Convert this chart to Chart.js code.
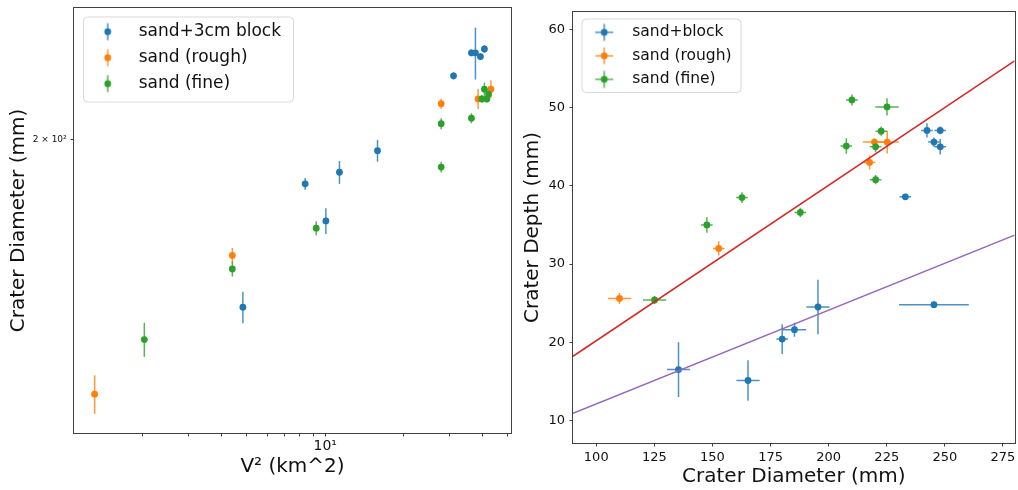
<!DOCTYPE html>
<html>
<head>
<meta charset="utf-8">
<title>Crater size vs impact speed</title>
<script src="https://cdn.jsdelivr.net/npm/chart.js@4.4.1/dist/chart.umd.min.js"></script>
<style>
  html, body { margin: 0; padding: 0; background: #fff; }
  #wrap { position: relative; width: 1018px; height: 490px; }
  #chartLeft { position: absolute; left: 0; top: 0; }
  #chartRight { position: absolute; left: 515px; top: 0; }
</style>
</head>
<body>
<div id="wrap">
  <canvas id="chartLeft" width="515" height="490"></canvas>
  <canvas id="chartRight" width="503" height="490"></canvas>
</div>
<script>
// --- left panel: crater diameter vs V^2 (log-log) ---
const blockV2 = [4.84, 8.38, 10.06, 11.34, 15.86, 31.0, 36.3, 37.6, 39.3, 40.7];
const blockDiam = [134.8, 180.3, 165.2, 185.3, 195.0, 232.6, 245.6, 245.6, 243.4, 247.8];
const blockDiamErr = [5, 2.5, 5, 5, 5, 2, 2, 15, 2, 2.2];

const roughV2 = [1.31, 4.41, 27.8, 38.5, 43.1];
const roughDiam = [109.8, 152.3, 217.8, 220.3, 225.4];
const roughDiamErr = [5, 2.7, 2.6, 5.2, 4.8];

const fineV2 = [2.03, 4.41, 9.24, 27.8, 27.8, 36.3, 39.8, 40.7, 41.6, 42.2];
const fineDiam = [124.9, 147.5, 162.4, 187.6, 207.8, 210.5, 220.3, 225.4, 220.3, 222.8];
const fineDiamErr = [5, 2.6, 2.7, 2.4, 2.7, 2.5, 2, 3.5, 2, 2];

const leftXTicks = [2, 3, 4, 5, 6, 7, 8, 9, 10, 20, 30, 40, 50];
const leftXTickLabels = ['', '', '', '', '', '', '', '', '10¹', '', '', '', ''];
const leftYTicks = [200];
const leftYTickLabels = ['2 × 10²'];

// --- right panel: crater depth vs crater diameter ---
const blockD = [135.4, 165.3, 180.0, 185.3, 195.4, 245.3, 233.0, 242.3, 248.0, 245.3, 248.0];
const blockDepth = [16.5, 15.1, 20.4, 21.6, 24.5, 24.8, 38.6, 47.1, 47.1, 45.6, 45.0];
const blockDErr = [5, 5, 2.5, 5, 5, 15, 2.5, 2.5, 2.5, 2.5, 2.5];
const blockDepthErr = [3.5, 2.6, 1.9, 0.9, 3.5, 0.4, 0.4, 0.9, 0.5, 0.6, 1.0];

const roughD = [110.0, 152.7, 217.6, 219.7, 225.2];
const roughDepth = [25.6, 32.0, 43.0, 45.6, 45.6];
const roughDErr = [5, 2.5, 2.5, 5, 5];
const roughDepthErr = [0.7, 0.9, 0.9, 0.5, 1.45];

const fineD = [125.1, 147.6, 162.7, 187.8, 207.6, 210.0, 225.1, 222.6, 220.2, 220.2];
const fineDepth = [25.4, 35.0, 38.5, 36.6, 45.1, 51.0, 50.1, 47.0, 45.0, 40.8];
const fineDErr = [5, 2.5, 2.5, 2.5, 2.5, 2.5, 5, 2.5, 2.5, 2.5];
const fineDepthErr = [0.5, 1.0, 0.7, 0.6, 1.0, 0.7, 1.1, 0.6, 0.7, 0.6];

const redLineX = [90, 280];
const redLineY = [18.2, 56.0];
const purpleLineX = [90, 280];
const purpleLineY = [10.9, 33.7];

const rightXTicks = [100, 125, 150, 175, 200, 225, 250, 275];
const rightYTicks = [10, 20, 30, 40, 50, 60];

const C_BLUE = '#1f77b4', C_ORANGE = '#ff7f0e', C_GREEN = '#2ca02c';
const C_RED = '#d62728', C_PURPLE = '#9467bd';
const FONT = 'DejaVu Sans';

function withAlpha(hex, a) {
  const n = parseInt(hex.slice(1), 16);
  return `rgba(${(n >> 16) & 255},${(n >> 8) & 255},${n & 255},${a})`;
}

function pts(xs, ys) {
  return xs.map((x, i) => ({ x: x, y: ys[i] }));
}

// small errorbar glyph for the legend
function legendMarker(color, cross) {
  const c = document.createElement('canvas');
  c.width = 20; c.height = 20;
  const g = c.getContext('2d');
  g.strokeStyle = withAlpha(color, 0.8);
  g.lineWidth = 1.5;
  g.beginPath();
  g.moveTo(10, 1.5); g.lineTo(10, 18.5);
  if (cross) { g.moveTo(1, 10); g.lineTo(19, 10); }
  g.stroke();
  g.fillStyle = color;
  g.beginPath(); g.arc(10, 10, 3.4, 0, Math.PI * 2); g.fill();
  return c;
}

// error bars drawn under the points, through the chart scales
const errorBars = {
  id: 'errorBars',
  beforeDatasetsDraw(chart) {
    const { ctx, chartArea: a, scales: { x, y } } = chart;
    ctx.save();
    ctx.beginPath();
    ctx.rect(a.left, a.top, a.right - a.left, a.bottom - a.top);
    ctx.clip();
    ctx.lineWidth = 1.5;
    chart.data.datasets.forEach(ds => {
      if (!ds.errX && !ds.errY) return;
      ctx.strokeStyle = withAlpha(ds.backgroundColor, 0.8);
      ds.data.forEach((p, i) => {
        const px = x.getPixelForValue(p.x), py = y.getPixelForValue(p.y);
        ctx.beginPath();
        if (ds.errY) {
          ctx.moveTo(px, y.getPixelForValue(p.y - ds.errY[i]));
          ctx.lineTo(px, y.getPixelForValue(p.y + ds.errY[i]));
        }
        if (ds.errX) {
          ctx.moveTo(x.getPixelForValue(p.x - ds.errX[i]), py);
          ctx.lineTo(x.getPixelForValue(p.x + ds.errX[i]), py);
        }
        ctx.stroke();
      });
    });
    ctx.restore();
  }
};

// axes frame + legend box (matplotlib look)
const axesFrame = {
  id: 'axesFrame',
  afterLayout(chart, args, opts) {
    const lg = chart.legend;
    if (!lg || !opts.legendAt) return;
    lg.left = opts.legendAt.left;
    lg.top = opts.legendAt.top;
    lg.right = lg.left + 320;
    lg.bottom = lg.top + 200;
  },
  beforeDraw(chart, args, opts) {
    const ctx = chart.ctx;
    ctx.save();
    ctx.fillStyle = '#fff';
    ctx.fillRect(0, 0, chart.width, chart.height);
    const b = opts.legendBox;
    if (b) {
      ctx.beginPath();
      if (ctx.roundRect) ctx.roundRect(b.x + 0.5, b.y + 0.5, b.w, b.h, 4);
      else ctx.rect(b.x + 0.5, b.y + 0.5, b.w, b.h);
      ctx.fillStyle = 'rgba(255,255,255,0.8)';
      ctx.fill();
      ctx.strokeStyle = '#d9d9d9';
      ctx.lineWidth = 1;
      ctx.stroke();
    }
    ctx.restore();
  },
  afterDatasetsDraw(chart) {
    const { ctx, chartArea: a } = chart;
    ctx.save();
    ctx.strokeStyle = '#404040';
    ctx.lineWidth = 1;
    ctx.strokeRect(Math.round(a.left) - 0.5, Math.round(a.top) - 0.5,
      Math.round(a.right - a.left) + 1, Math.round(a.bottom - a.top) + 1);
    ctx.restore();
  }
};

function scatterSet(label, color, xs, ys, errX, errY, order) {
  return {
    label: label,
    data: pts(xs, ys),
    backgroundColor: color,
    borderColor: color,
    pointRadius: 3.4,
    pointBorderWidth: 0,
    pointHoverRadius: 3.4,
    errX: errX,
    errY: errY,
    order: order
  };
}

function legendOpts(fontSize, pad, boxW, cross) {
  return {
    position: 'chartArea',
    align: 'start',
    labels: {
      usePointStyle: true,
      pointStyleWidth: boxW,
      padding: pad,
      color: '#111',
      font: { family: FONT, size: fontSize },
      filter: item => item.datasetIndex < 3,
      sort: (a, b) => a.datasetIndex - b.datasetIndex,
      generateLabels(chart) {
        const items = Chart.defaults.plugins.legend.labels.generateLabels(chart);
        items.forEach(it => {
          const ds = chart.data.datasets[it.datasetIndex];
          it.pointStyle = legendMarker(ds.backgroundColor, cross);
        });
        return items;
      }
    }
  };
}

function tickFont(size) { return { family: FONT, size: size }; }

// ---------- left chart ----------
new Chart(document.getElementById('chartLeft'), {
  type: 'scatter',
  data: {
    datasets: [
      scatterSet('sand+3cm block', C_BLUE, blockV2, blockDiam, null, blockDiamErr, 3),
      scatterSet('sand (rough)', C_ORANGE, roughV2, roughDiam, null, roughDiamErr, 2),
      scatterSet('sand (fine)', C_GREEN, fineV2, fineDiam, null, fineDiamErr, 1)
    ]
  },
  options: {
    responsive: false,
    animation: false,
    events: [],
    layout: { padding: { top: 8, right: 4, bottom: 0, left: 0 } },
    plugins: {
      legend: legendOpts(17, 9, 45, false),
      tooltip: { enabled: false },
      axesFrame: {
        legendAt: { left: 76.2, top: 14.2 },
        legendBox: { x: 83, y: 16.5, w: 210, h: 85 }
      }
    },
    scales: {
      x: {
        type: 'logarithmic',
        min: 1.092,
        max: 51.45,
        afterBuildTicks: s => { s.ticks = leftXTicks.map(v => ({ value: v })); },
        afterFit: s => { s.height = 57; s.paddingLeft = 0; s.paddingRight = 0; },
        ticks: {
          autoSkip: false, maxRotation: 0, padding: 1, color: '#111',
          font: tickFont(14),
          callback: (v, i) => leftXTickLabels[i]
        },
        grid: { drawOnChartArea: false, tickLength: 3.5, tickColor: '#404040' },
        border: { display: false },
        title: {
          display: true, text: 'V² (km^2)', color: '#111',
          font: { family: FONT, size: 20 }, padding: { top: 0, bottom: 11 }
        }
      },
      y: {
        type: 'logarithmic',
        min: 100.19,
        max: 272.97,
        afterBuildTicks: s => { s.ticks = leftYTicks.map(v => ({ value: v })); },
        afterFit: s => { s.width = 74; s.paddingTop = 0; s.paddingBottom = 0; },
        ticks: {
          autoSkip: false, padding: 3.8, color: '#111',
          font: tickFont(9),
          callback: (v, i) => leftYTickLabels[i]
        },
        grid: { drawOnChartArea: false, tickLength: 3.5, tickColor: '#404040' },
        border: { display: false },
        title: {
          display: true, text: 'Crater Diameter (mm)', color: '#111',
          font: { family: FONT, size: 20 }, padding: { top: 7, bottom: 0 }
        }
      }
    }
  },
  plugins: [errorBars, axesFrame]
});

// ---------- right chart ----------
new Chart(document.getElementById('chartRight'), {
  type: 'scatter',
  data: {
    datasets: [
      scatterSet('sand+block', C_BLUE, blockD, blockDepth, blockDErr, blockDepthErr, 3),
      scatterSet('sand (rough)', C_ORANGE, roughD, roughDepth, roughDErr, roughDepthErr, 2),
      scatterSet('sand (fine)', C_GREEN, fineD, fineDepth, fineDErr, fineDepthErr, 1),
      {
        label: 'fit (sand)', data: pts(redLineX, redLineY), showLine: true,
        borderColor: C_RED, backgroundColor: C_RED, borderWidth: 1.5, pointRadius: 0, order: 0
      },
      {
        label: 'fit (block)', data: pts(purpleLineX, purpleLineY), showLine: true,
        borderColor: C_PURPLE, backgroundColor: C_PURPLE, borderWidth: 1.5, pointRadius: 0, order: 0
      }
    ]
  },
  options: {
    responsive: false,
    animation: false,
    events: [],
    layout: { padding: { top: 12, right: 3, bottom: 0, left: 0 } },
    plugins: {
      legend: legendOpts(15.5, 8, 40.5, true),
      tooltip: { enabled: false },
      axesFrame: {
        legendAt: { left: 61, top: 16.6 },
        legendBox: { x: 66.5, y: 18.5, w: 159, h: 73.5 }
      }
    },
    scales: {
      x: {
        type: 'linear',
        min: 90,
        max: 280,
        afterBuildTicks: s => { s.ticks = rightXTicks.map(v => ({ value: v })); },
        afterFit: s => { s.height = 47; s.paddingLeft = 0; s.paddingRight = 0; },
        ticks: { autoSkip: false, maxRotation: 0, padding: 3, color: '#111', font: tickFont(13) },
        grid: { drawOnChartArea: false, tickLength: 3.5, tickColor: '#404040' },
        border: { display: false },
        title: {
          display: true, text: 'Crater Diameter (mm)', color: '#111',
          font: { family: FONT, size: 20 }, padding: { top: 0, bottom: 1 }
        }
      },
      y: {
        type: 'linear',
        min: 7.1,
        max: 62.25,
        afterBuildTicks: s => { s.ticks = rightYTicks.map(v => ({ value: v })); },
        afterFit: s => { s.width = 58; s.paddingTop = 0; s.paddingBottom = 0; },
        ticks: { autoSkip: false, padding: 4.5, color: '#111', font: tickFont(13) },
        grid: { drawOnChartArea: false, tickLength: 3.5, tickColor: '#404040' },
        border: { display: false },
        title: {
          display: true, text: 'Crater Depth (mm)', color: '#111',
          font: { family: FONT, size: 20 }, padding: { top: 6, bottom: 0 }
        }
      }
    }
  },
  plugins: [errorBars, axesFrame]
});
</script>
</body>
</html>
